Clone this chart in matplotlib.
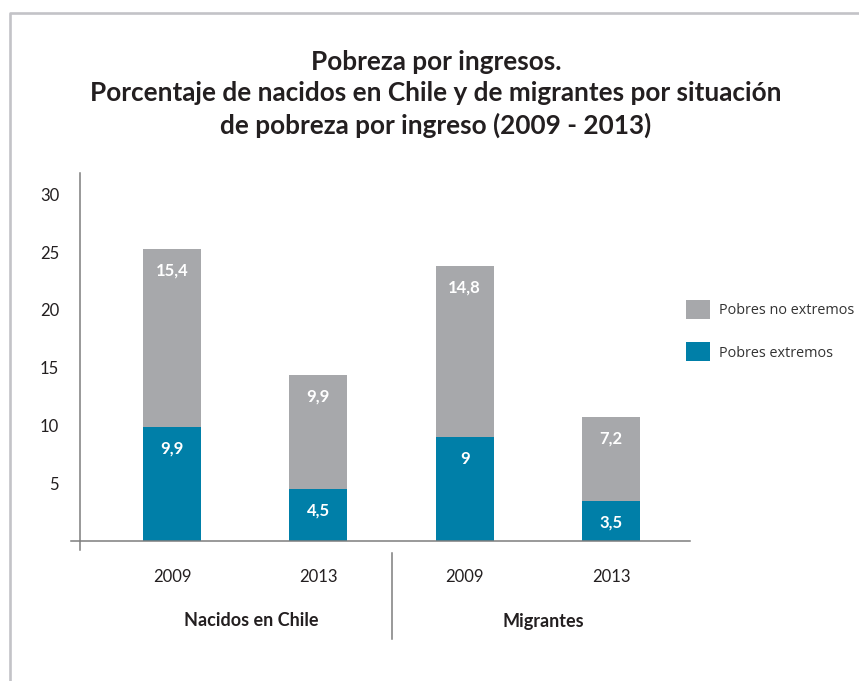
import matplotlib
matplotlib.use("Agg")
import matplotlib.pyplot as plt
from matplotlib.lines import Line2D
import matplotlib.transforms as mtransforms

groups = ["Nacidos en Chile", "Migrantes"]
years = ["2009", "2013", "2009", "2013"]
extremos = [9.9, 4.5, 9.0, 3.5]
no_extremos = [15.4, 9.9, 14.8, 7.2]
yticks = [5, 10, 15, 20, 25, 30]

blue = "#007fa8"
gray = "#a7a8ab"
dark = "#231f20"
axcol = "#7d7d7d"

def fmt(v):
    s = ("%.1f" % v).rstrip("0").rstrip(".")
    return s.replace(".", ",")

fig = plt.figure(figsize=(8.59, 6.81), dpi=100)
W, H = 859.0, 681.0

# outer frame (only top and left visible)
fig.add_artist(Line2D([9.5 / W, 9.5 / W, 1.0], [0.0, 1 - 12.5 / H, 1 - 12.5 / H],
                      transform=fig.transFigure, color="#c3c3c7", lw=1.9))

fig.text(436 / W, 1 - 94 / H,
         "Pobreza por ingresos.\nPorcentaje de nacidos en Chile y de migrantes por situación\nde pobreza por ingreso (2009 - 2013)",
         ha="center", va="center", fontsize=18.8, fontweight="bold", family="Lato",
         color=dark, linespacing=1.38)

ax = fig.add_axes([80 / W, 1 - 541 / H, 610 / W, 368 / H])
x = list(range(len(years)))
b1 = ax.bar(x, extremos, width=0.396, color=blue, label="Pobres extremos")
b2 = ax.bar(x, no_extremos, width=0.396, bottom=extremos, color=gray, label="Pobres no extremos")

for i in x:
    ax.annotate(fmt(extremos[i]), (i, extremos[i]), xytext=(0, -15.5), textcoords="offset points",
                ha="center", va="center", color="white", fontsize=12, fontweight="bold", family="Lato")
    ax.annotate(fmt(no_extremos[i]), (i, extremos[i] + no_extremos[i]), xytext=(0, -15.5),
                textcoords="offset points", ha="center", va="center", color="white",
                fontsize=12, fontweight="bold", family="Lato")

ax.set_xlim(-0.629, 3.54)
ax.set_ylim(0, 31.86)
for s in ax.spines.values():
    s.set_visible(False)
ax.set_xticks([])
ax.set_yticks(yticks)
ax.set_yticklabels([str(t) for t in yticks], family="Lato", fontsize=12, color=dark)
ax.tick_params(axis="y", length=0, pad=15)

# axis lines crossing at the origin
ax.plot([-0.69, 3.54], [0, 0], color=axcol, lw=1.1, clip_on=False)
ax.plot([-0.629, -0.629], [-0.78, 31.86], color=axcol, lw=1.1, clip_on=False)

trans = mtransforms.blended_transform_factory(ax.transData, ax.transAxes)
for i, yr in enumerate(years):
    ax.text(i, -36 / 368, yr, transform=trans, ha="center", va="center",
            fontsize=12, family="Lato", color=dark)
for gx, g in zip([0.54, 2.54], groups):
    ax.text(gx, -80 / 368, g, transform=trans, ha="center", va="center",
            fontsize=13, fontweight="bold", family="Lato", color=dark)
ax.plot([1.504, 1.504], [-12 / 368, -98 / 368], transform=trans, color=axcol, lw=1.1, clip_on=False)

fs = 10.4
leg = fig.legend(handles=[b2, b1], labels=["Pobres no extremos", "Pobres extremos"],
                 loc="upper left", bbox_to_anchor=(686 / W, 1 - 300 / H),
                 frameon=False, borderpad=0, borderaxespad=0,
                 handlelength=24 / 14.4, handleheight=24 / 14.4,
                 labelspacing=1.6, handletextpad=0.6,
                 prop={"family": "Open Sans", "size": fs})
for t in leg.get_texts():
    t.set_color("#333333")

fig.savefig("out.png", dpi=100)
